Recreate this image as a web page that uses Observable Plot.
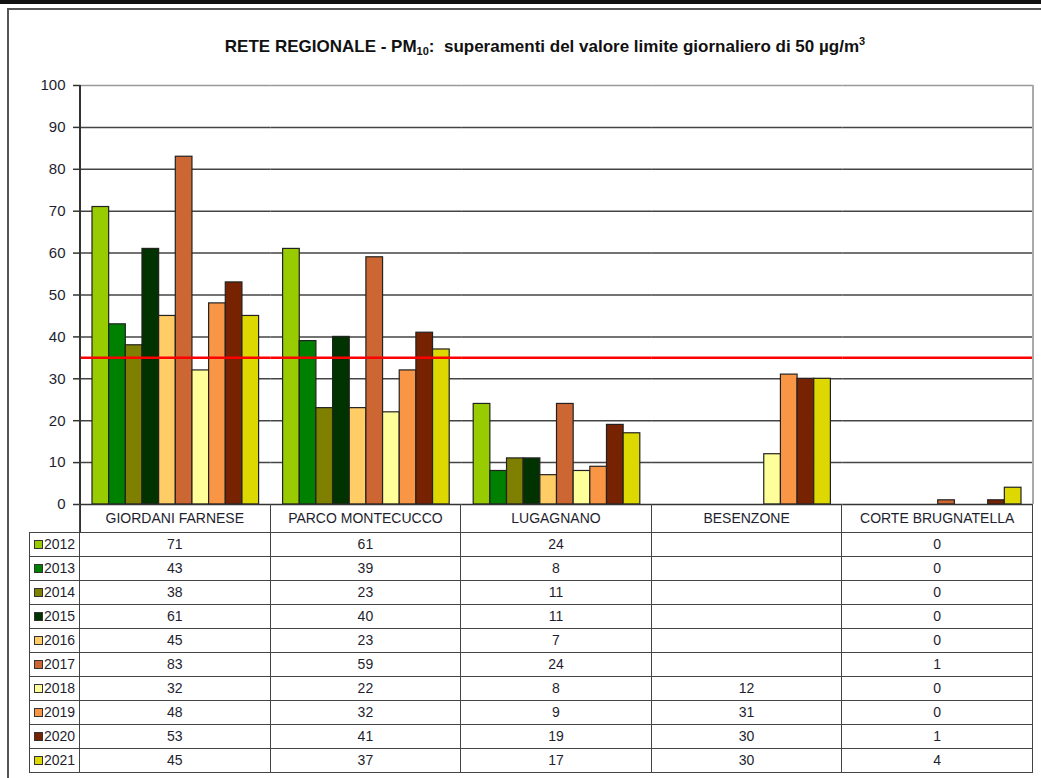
<!DOCTYPE html>
<html>
<head>
<meta charset="utf-8">
<script src="https://cdn.jsdelivr.net/npm/d3@7"></script>
<script src="https://cdn.jsdelivr.net/npm/@observablehq/plot@0.6"></script>
<style>
  html, body { margin: 0; padding: 0; background: #fff; }
  #wrap { position: relative; width: 1041px; height: 778px; overflow: hidden; font-family: "Liberation Sans", Arial, sans-serif; color: #222; }
  .abs { position: absolute; }
  #title { position: absolute; top: 37px; left: 0; width: 1090px; text-align: center; font-family: "Liberation Sans", Arial, sans-serif; font-weight: bold; font-size: 17px; color: #111; white-space: nowrap; }
  #title sub { font-size: 11px; vertical-align: -3px; line-height: 0; }
  #title sup { font-size: 11px; vertical-align: 7px; line-height: 0; }
  table { position: absolute; left: 29px; top: 504px; border-collapse: collapse; table-layout: fixed; font-family: "Liberation Sans", Arial, sans-serif; color: #1e1e2e; }
  tr { height: 24px; }
  tr.head { height: 28px; }
  td { padding: 0; border: 1.5px solid #444; text-align: center; font-size: 14px; line-height: 16px; white-space: nowrap; overflow: hidden; }
  tr.head td { border-top: none; font-size: 14px; }
  tr.head td.lab { border-left: none; }
  td.lab { text-align: left; font-size: 14px; }
  .sw { display: inline-block; width: 7px; height: 7px; border: 1px solid #333; margin-left: 4px; margin-right: 1px; vertical-align: 0px; }
</style>
</head>
<body>
<div id="wrap">
  <div class="abs" style="left:0;top:0;width:1041px;height:4px;background:#111;"></div>
  <div class="abs" style="left:7px;top:8px;width:1034px;height:2px;background:#555;"></div>
  <div class="abs" style="left:7px;top:8px;width:2px;height:770px;background:#555;"></div>
  <div id="title">RETE REGIONALE - PM<sub>10</sub>:&nbsp; superamenti del valore limite giornaliero di 50 µg/m<sup>3</sup></div>
  <div id="chart" class="abs" style="left:0;top:0;"></div>
  <div class="abs" style="left:1032px;top:85px;width:1.5px;height:419px;background:#aaa;"></div>
  <div class="abs" style="left:79px;top:85px;width:1.5px;height:447px;background:#333;"></div>
  <table id="tbl"></table>
</div>
<script>
const sites = ["GIORDANI FARNESE", "PARCO MONTECUCCO", "LUGAGNANO", "BESENZONE", "CORTE BRUGNATELLA"];
const years = ["2012", "2013", "2014", "2015", "2016", "2017", "2018", "2019", "2020", "2021"];
const colors = ["#99CC00", "#008000", "#808000", "#003300", "#FFCC66", "#CC6633", "#FFFF99", "#F99645", "#772200", "#DDD800"];
const v2012 = [71, 61, 24, null, 0];
const v2013 = [43, 39, 8, null, 0];
const v2014 = [38, 23, 11, null, 0];
const v2015 = [61, 40, 11, null, 0];
const v2016 = [45, 23, 7, null, 0];
const v2017 = [83, 59, 24, null, 1];
const v2018 = [32, 22, 8, 12, 0];
const v2019 = [48, 32, 9, 31, 0];
const v2020 = [53, 41, 19, 30, 1];
const v2021 = [45, 37, 17, 30, 4];
const yTicks = [0, 10, 20, 30, 40, 50, 60, 70, 80, 90, 100];
const limit = [35];

const series = [v2012, v2013, v2014, v2015, v2016, v2017, v2018, v2019, v2020, v2021];
const data = [];
series.forEach((vals, i) => vals.forEach((v, j) => data.push({year: years[i], site: sites[j], value: v})));

const chart = Plot.plot({
  width: 1041,
  height: 505,
  marginTop: 85,
  marginBottom: 1,
  marginLeft: 80,
  marginRight: 8,
  style: {background: "transparent", fontFamily: "'Liberation Sans', Arial, sans-serif", overflow: "visible"},
  fx: {domain: sites, padding: 0, round: false, axis: null},
  x: {domain: years, paddingInner: 0, paddingOuter: 0.72, round: false, axis: null},
  y: {domain: [0, 100], axis: null},
  color: {domain: years, range: colors},
  marks: [
    Plot.ruleY(yTicks.filter(t => t > 0 && t < 100), {stroke: "#444", strokeWidth: 1.5}),
    Plot.ruleY([100], {stroke: "#999", strokeWidth: 1.5}),
    Plot.barY(data.filter(d => d.value != null && d.value > 0), {fx: "site", x: "year", y: "value", fill: "year", stroke: "#222", strokeWidth: 1.2}),
    Plot.ruleY(limit, {stroke: "#FF0000", strokeWidth: 2.5}),
    Plot.ruleY([0], {stroke: "#333", strokeWidth: 1.5}),
    Plot.axisY({ticks: yTicks, tickSize: 7, tickPadding: 8, fontSize: 15, fill: "#1e1e2e", stroke: "#333", strokeWidth: 1.5, tickFormat: d => String(d), anchor: "left", label: null})
  ]
});
document.getElementById("chart").appendChild(chart);

// data table
const tbl = document.getElementById("tbl");
const colg = document.createElement("colgroup");
[50, ...sites.map(() => 190.6)].forEach(w => { const c = document.createElement("col"); c.style.width = w + "px"; colg.appendChild(c); });
tbl.appendChild(colg);
const head = document.createElement("tr");
head.className = "head";
const h0 = document.createElement("td"); h0.className = "lab"; head.appendChild(h0);
sites.forEach(s => { const td = document.createElement("td"); td.textContent = s; head.appendChild(td); });
tbl.appendChild(head);
series.forEach((vals, i) => {
  const tr = document.createElement("tr");
  const lab = document.createElement("td");
  lab.className = "lab";
  lab.innerHTML = `<span class="sw" style="background:${colors[i]}"></span>${years[i]}`;
  tr.appendChild(lab);
  vals.forEach(v => { const td = document.createElement("td"); td.textContent = v == null ? "" : v; tr.appendChild(td); });
  tbl.appendChild(tr);
});
</script>
</body>
</html>
